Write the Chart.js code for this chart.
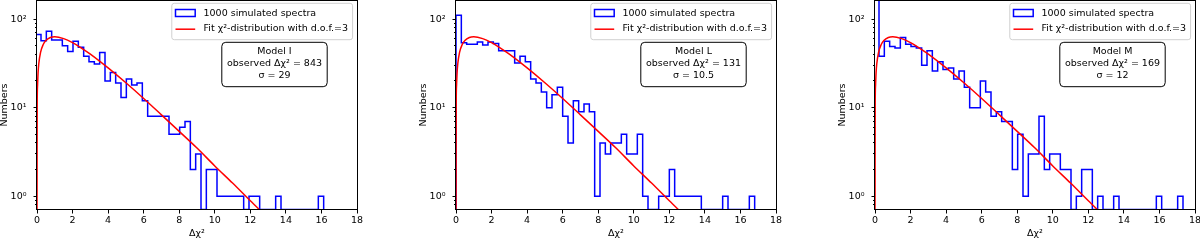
<!DOCTYPE html>
<html lang="en">

<head>
    <meta charset="UTF-8">
    <title>Δχ² of 1000 simulated spectra</title>
    <script src="https://cdn.jsdelivr.net/npm/chart.js"></script>
    <style>
        body { margin: 0; background: #fff; width: 1200px; height: 241px; overflow: hidden; position: relative; }
        canvas { position: absolute; top: 0; }
    </style>
</head>

<body>
    <canvas id="panelI" width="368" height="241" style="left:-3px"></canvas>
    <canvas id="panelL" width="368" height="241" style="left:416px"></canvas>
    <canvas id="panelM" width="368" height="241" style="left:835px"></canvas>

    <script>
        // histogram bins (width 0.3) and counts
        const binWidth = 0.3;
        const binStartI = -0.075;
        const binStartL = 0;
        const binStartM = -0.075;

        const countsI = [67, 57, 73, 58, 58, 50, 43, 56, 48, 38,
            33, 31, 42, 20, 25, 19, 13, 21, 18, 19,
            12, 8, 8, 8, 8, 5, 5, 6, 7, 2,
            3, 0, 2, 2, 1, 1, 1, 1, 1, 0,
            1, 1, 0, 0, 0, 1, 0, 0, 0, 0,
            0, 0, 0, 1];
        const countsL = [110, 54, 52, 52, 55, 51, 55, 53, 44, 44,
            44, 32, 38, 33, 21, 19, 15, 10, 14, 17,
            8, 4, 12, 9, 11, 9, 1, 4, 3, 4,
            4, 5, 3, 3, 5, 1, 0, 0, 1, 1,
            2, 1, 1, 1, 1, 1, 0, 0, 0, 0,
            1, 0, 0, 0, 0, 1];
        const countsM = [170, 38, 56, 49, 47, 62, 52, 49, 47, 30,
            44, 26, 33, 27, 28, 21, 26, 17, 10, 10,
            20, 15, 8, 9, 7, 7, 2, 5, 1, 3,
            3, 8, 2, 3, 3, 2, 2, 0, 1, 2,
            2, 0, 1, 0, 0, 1, 0, 0, 0, 0,
            0, 0, 0, 1, 0, 0, 0, 1];

        // red fit curve
        const fitX = [0, 0.01, 0.03, 0.06, 0.1, 0.2, 0.35, 0.5, 0.75, 1, 1.5, 2, 2.5, 3, 4, 5, 6, 7, 8, 9, 10, 11, 12, 12.5, 12.7];
        const fitY = [0, 10.3, 17.7, 24.7, 31.3, 42.1, 51.6, 57.3, 61.9, 63, 60.1, 54.1, 47.1, 40.2, 28.1, 19.1, 12.7, 8.3, 5.4, 3.5, 2.2, 1.41, 0.89, 0.71, 0.64];

        const modelNames = ['I', 'L', 'M'];
        const observedDeltaChi2 = [843, 131, 169];
        const sigmas = ['29', '10.5', '12'];

        const legendLabels = ['1000 simulated spectra', 'Fit χ²-distribution with d.o.f.=3'];

        const xMin = 0, xMax = 18;
        const yMin = 0.708, yMax = 164;
        const yMajorTicks = [1, 10, 100];
        const yMajorLabels = ['10⁰', '10¹', '10²'];
        const yMinorTicks = [0.8, 0.9, 2, 3, 4, 5, 6, 7, 8, 9, 20, 30, 40, 50, 60, 70, 80, 90];

        const FONT_FAMILY = 'DejaVu Sans';
        const FONT_SIZE = 9.5;
        const FONT = FONT_SIZE + 'px "' + FONT_FAMILY + '"';

        // log axis can't show 0, push empty bins down to the axis floor like matplotlib does
        function floorZero(v) {
            return v > 0 ? v : yMin;
        }

        function stepPoints(start, counts) {
            const pts = [{ x: start, y: yMin }];
            counts.forEach((c, i) => pts.push({ x: start + i * binWidth, y: floorZero(c) }));
            const end = start + counts.length * binWidth;
            pts.push({ x: end, y: floorZero(counts[counts.length - 1]) });
            pts.push({ x: end, y: yMin });
            return pts;
        }

        // fixed axis sizes so the three plot areas sit where the reference has them
        function fixWidth(w) {
            return s => { s.width = w; s.paddingTop = 0; s.paddingBottom = 0; };
        }

        const framePlugin = {
            id: 'frame',
            afterDatasetsDraw(chart) {
                const { ctx, chartArea: a } = chart;
                ctx.save();
                ctx.strokeStyle = '#000';
                ctx.lineWidth = 1;
                ctx.strokeRect(a.left - 0.5, a.top + 0.5, a.right - a.left + 1, a.bottom - a.top - 1);
                ctx.restore();
            }
        };

        const textPlugin = {
            id: 'panelText',
            afterDraw(chart, args, opts) {
                const { ctx, chartArea: a } = chart;
                ctx.save();
                ctx.font = FONT;
                ctx.textBaseline = 'middle';

                // legend box, top right
                const textW = Math.max(...legendLabels.map(t => ctx.measureText(t).width));
                const lw = 31.7 + textW + 4.5;
                const lx = a.right - 4.4 - lw;
                const ly = a.top + 3.3;
                ctx.beginPath();
                ctx.roundRect(lx, ly, lw, 36.4, 2.5);
                ctx.fillStyle = 'rgba(255,255,255,0.8)';
                ctx.fill();
                ctx.strokeStyle = '#d0d0d0';
                ctx.lineWidth = 1;
                ctx.stroke();

                ctx.strokeStyle = 'blue';
                ctx.lineWidth = 1.5;
                ctx.strokeRect(lx + 3.7, ly + 6.2, 19.7, 7);
                ctx.strokeStyle = 'red';
                ctx.beginPath();
                ctx.moveTo(lx + 3.7, ly + 25.9);
                ctx.lineTo(lx + 23.4, ly + 25.9);
                ctx.stroke();

                ctx.fillStyle = '#000';
                ctx.textAlign = 'left';
                ctx.fillText(legendLabels[0], lx + 31.7, ly + 10.4);
                ctx.fillText(legendLabels[1], lx + 31.7, ly + 25.7);

                // model info box
                const lines = opts.lines;
                const bw = Math.max(...lines.map(t => ctx.measureText(t).width)) + 10.4;
                const cx = a.right - 82.5;
                const by = a.top + 42.3;
                ctx.beginPath();
                ctx.roundRect(cx - bw / 2, by, bw, 44.4, 4);
                ctx.fillStyle = '#fff';
                ctx.fill();
                ctx.strokeStyle = '#000';
                ctx.lineWidth = 1;
                ctx.stroke();
                ctx.fillStyle = '#000';
                ctx.textAlign = 'center';
                lines.forEach((t, i) => ctx.fillText(t, cx, by + 9.4 + 12.1 * i));
                ctx.restore();
            }
        };

        function makePanel(id, start, counts, k) {
            return new Chart(document.getElementById(id), {
                type: 'line',
                data: {
                    datasets: [{
                        label: legendLabels[1],
                        data: fitX.map((x, i) => ({ x: x, y: floorZero(fitY[i]) })),
                        borderColor: 'red',
                        borderWidth: 1.5,
                        pointRadius: 0,
                        cubicInterpolationMode: 'monotone',
                        order: 0
                    }, {
                        label: legendLabels[0],
                        data: stepPoints(start, counts),
                        borderColor: 'blue',
                        borderWidth: 1.5,
                        pointRadius: 0,
                        stepped: true,
                        order: 1
                    }]
                },
                options: {
                    responsive: false,
                    animation: false,
                    events: [],
                    layout: {
                        autoPadding: false,
                        padding: { top: 0, right: 8, bottom: 0, left: 0 }
                    },
                    scales: {
                        x: {
                            type: 'linear',
                            min: xMin,
                            max: xMax,
                            afterFit: s => { s.height = 31; s.paddingLeft = 0; s.paddingRight = 0; },
                            ticks: {
                                stepSize: 2,
                                padding: 1,
                                color: '#000',
                                font: { family: FONT_FAMILY, size: FONT_SIZE }
                            },
                            grid: { drawOnChartArea: false, tickLength: 3.5, color: '#000' },
                            border: { display: false },
                            title: {
                                display: true,
                                text: 'Δχ²',
                                color: '#000',
                                padding: { top: 0, bottom: 1.3 },
                                font: { family: FONT_FAMILY, size: FONT_SIZE }
                            }
                        },
                        y: {
                            type: 'logarithmic',
                            position: 'left',
                            weight: 1,
                            min: yMin,
                            max: yMax,
                            afterFit: fixWidth(40),
                            afterBuildTicks: s => { s.ticks = yMajorTicks.map(v => ({ value: v, major: true })); },
                            ticks: {
                                autoSkip: false,
                                padding: 7,
                                color: '#000',
                                font: { family: FONT_FAMILY, size: FONT_SIZE },
                                callback: (v, i) => yMajorLabels[i]
                            },
                            grid: { drawOnChartArea: false, tickLength: 3.5, color: '#000' },
                            border: { display: false },
                            title: {
                                display: true,
                                text: 'Numbers',
                                color: '#000',
                                padding: { top: 1.6, bottom: 0 },
                                font: { family: FONT_FAMILY, size: FONT_SIZE }
                            }
                        },
                        yMinor: {
                            type: 'logarithmic',
                            position: 'left',
                            weight: 0,
                            min: yMin,
                            max: yMax,
                            afterFit: fixWidth(0),
                            afterBuildTicks: s => { s.ticks = yMinorTicks.map(v => ({ value: v })); },
                            ticks: { display: false, autoSkip: false },
                            grid: { drawOnChartArea: false, tickLength: 2, color: '#000' },
                            border: { display: false }
                        }
                    },
                    plugins: {
                        legend: { display: false },
                        tooltip: { enabled: false },
                        panelText: {
                            lines: ['Model ' + modelNames[k],
                                'observed Δχ² = ' + observedDeltaChi2[k],
                                'σ = ' + sigmas[k]]
                        }
                    }
                },
                plugins: [framePlugin, textPlugin]
            });
        }

        makePanel('panelI', binStartI, countsI, 0);
        makePanel('panelL', binStartL, countsL, 1);
        makePanel('panelM', binStartM, countsM, 2);
    </script>
</body>

</html>
